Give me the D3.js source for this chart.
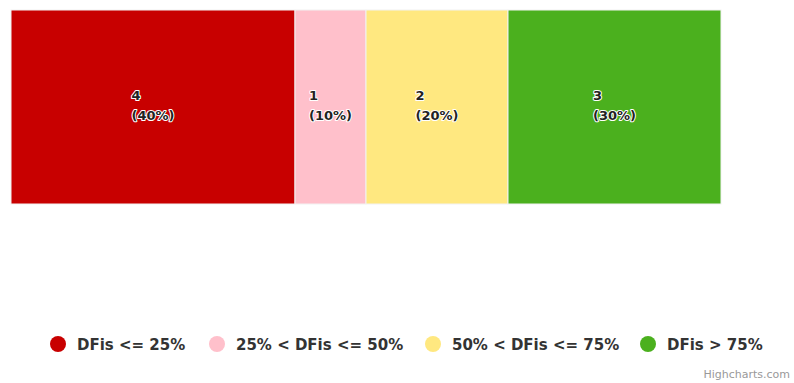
<!DOCTYPE html>
<html><head><meta charset="utf-8">
<script src="https://cdn.jsdelivr.net/npm/d3@7"></script>
<style>body{margin:0;background:#fff}svg{display:block}</style>
</head><body><svg id="c" width="794" height="383"></svg>
<script>
const labels = ["4", "1", "2", "3"];
const values = [4, 1, 2, 3];
const percents = ["40%", "10%", "20%", "30%"];
const legendLabels = ["DFis <= 25%", "25% < DFis <= 50%", "50% < DFis <= 75%", "DFis > 75%"];
const colors = ["#C80000", "#FFC0CB", "#FFE880", "#4BB01E"];

const svg = d3.select("#c");
const total = d3.sum(values);
const x = d3.scaleLinear().domain([0, total]).range([11, 721]);
const y = d3.scaleLinear().domain([0, 1]).range([204, 10]);
let acc = 0;
const data = values.map((v, i) => { const d = {x0: acc, x1: acc + v, i}; acc += v; return d; });

svg.selectAll("rect.cell").data(data).join("rect").attr("class", "cell")
  .attr("x", d => x(d.x0)).attr("y", y(1))
  .attr("width", d => x(d.x1) - x(d.x0)).attr("height", y(0) - y(1))
  .attr("fill", d => colors[d.i]).attr("stroke", "#f2f2f2").attr("stroke-width", 1);

const lab = svg.selectAll("g.lab").data(data).join("g").attr("class", "lab")
  .attr("transform", d => `translate(${(x(d.x0) + x(d.x1)) / 2},${(y(0) + y(1)) / 2})`);
lab.each(function(d) {
  const g = d3.select(this);
  const t = g.append("text").attr("font-family", "DejaVu Sans").attr("font-weight", "bold")
    .attr("font-size", 13).attr("fill", "#222")
    .attr("stroke", "#fff").attr("stroke-width", 2).attr("paint-order", "stroke")
    .attr("stroke-linejoin", "round");
  t.append("tspan").attr("x", 0).attr("y", -7).text(labels[d.i]);
  t.append("tspan").attr("x", 0).attr("y", 13).text("(" + percents[d.i] + ")");
  const w = t.node().getBBox().width;
  t.attr("transform", `translate(${-w / 2},0)`);
});

const legX = [58, 217, 433, 648];
const leg = svg.selectAll("g.leg").data(legendLabels).join("g").attr("class", "leg")
  .attr("transform", (d, i) => `translate(${legX[i]},344)`);
leg.append("circle").attr("r", 8).attr("fill", (d, i) => colors[i]);
leg.append("text").attr("x", 19).attr("y", 6).attr("font-family", "DejaVu Sans")
  .attr("font-weight", "bold").attr("font-size", 15).attr("fill", "#333").text(d => d);

svg.append("text").attr("x", 790).attr("y", 378).attr("text-anchor", "end")
  .attr("font-family", "DejaVu Sans").attr("font-size", 11).attr("fill", "#999").text("Highcharts.com");
</script></body></html>
